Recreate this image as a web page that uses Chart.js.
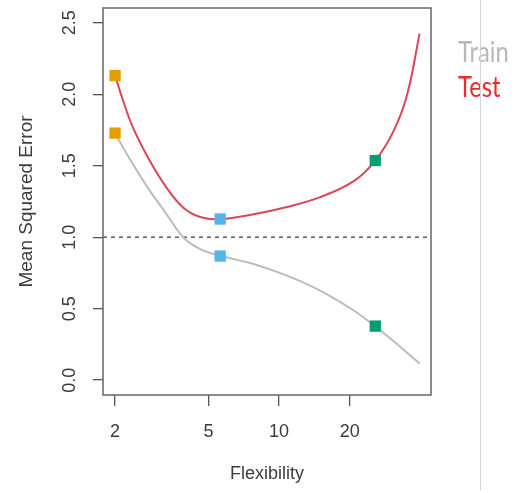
<!DOCTYPE html>
<html>
<head>
<meta charset="utf-8">
<script src="https://cdn.jsdelivr.net/npm/chart.js@4.4.1/dist/chart.umd.min.js"></script>
<style>
  html, body { margin: 0; padding: 0; background: #fff; }
  #wrap { position: relative; width: 526px; height: 493px; }
  #divider { position: absolute; left: 480px; top: 0; width: 1px; height: 490px; background: #d4d4d4; }
</style>
</head>
<body>
<div id="wrap">
  <canvas id="mseChart" width="526" height="493"></canvas>
  <div id="divider"></div>
</div>
<script>
// curves (x on a log scale)
const flexibility = [2, 2.17, 2.39, 2.82, 3.32, 3.91, 4.61, 5.61, 7.78, 10.8, 14.97, 20.8, 25.7, 30.7, 35.1, 39.7];
const trainMSE = [1.724, 1.624, 1.508, 1.322, 1.160, 0.998, 0.917, 0.870, 0.812, 0.731, 0.626, 0.487, 0.376, 0.273, 0.192, 0.116];
const testMSE = [2.13, 1.949, 1.763, 1.531, 1.345, 1.206, 1.141, 1.125, 1.160, 1.211, 1.280, 1.392, 1.536, 1.740, 1.995, 2.424];

// the three highlighted fits
const markerFlex = [2, 5.61, 25.7];
const markerTrain = [1.728, 0.868, 0.378];
const markerTest = [2.13, 1.127, 1.536];

const xTicks = [2, 5, 10, 20];
const yTicks = [0, 0.5, 1, 1.5, 2, 2.5];
const refLevel = 1.0;
const seriesNames = ['Train', 'Test'];

const markerColors = ['#E69F00', '#56B4E9', '#009E73'];
const textColor = '#3c3c3c';
const axisColor = '#555';

const toXY = (xs, ys) => xs.map((x, i) => ({ x: x, y: ys[i] }));

const framePlugin = {
  id: 'frame',
  beforeDatasetsDraw(chart) {
    const { ctx, chartArea: a, scales: { y } } = chart;
    const yy = y.getPixelForValue(refLevel);
    ctx.save();
    ctx.strokeStyle = '#444';
    ctx.lineWidth = 1.3;
    ctx.setLineDash([4, 4]);
    ctx.beginPath();
    ctx.moveTo(a.left, yy);
    ctx.lineTo(a.right, yy);
    ctx.stroke();
    ctx.restore();
  },
  afterDraw(chart) {
    const { ctx, chartArea: a } = chart;
    ctx.save();
    ctx.strokeStyle = '#666';
    ctx.lineWidth = 1.5;
    ctx.strokeRect(a.left, a.top, a.right - a.left, a.bottom - a.top);

    // legend as coloured words
    ctx.font = '29px Lato';
    ctx.textBaseline = 'alphabetic';
    ctx.textAlign = 'left';
    const legendColors = ['#b8b8b8', '#ee2b2b'];
    const baselines = [61.5, 96.5];
    seriesNames.forEach((name, i) => {
      ctx.save();
      ctx.translate(458, baselines[i]);
      ctx.scale(0.82, 1);
      ctx.fillStyle = legendColors[i];
      ctx.fillText(name, 0, 0);
      ctx.restore();
    });
    ctx.restore();
  }
};

const ctx = document.getElementById('mseChart').getContext('2d');

new Chart(ctx, {
  type: 'line',
  data: {
    datasets: [
      {
        label: 'Test fits',
        data: toXY(markerFlex, markerTest),
        showLine: false,
        pointStyle: 'rect',
        pointRadius: 8,
        pointBorderWidth: 0,
        pointBackgroundColor: markerColors,
        pointBorderColor: markerColors
      },
      {
        label: 'Train fits',
        data: toXY(markerFlex, markerTrain),
        showLine: false,
        pointStyle: 'rect',
        pointRadius: 8,
        pointBorderWidth: 0,
        pointBackgroundColor: markerColors,
        pointBorderColor: markerColors
      },
      {
        label: seriesNames[1],
        data: toXY(flexibility, testMSE),
        borderColor: '#dc4656',
        borderWidth: 2,
        pointRadius: 0,
        tension: 0.4,
        fill: false
      },
      {
        label: seriesNames[0],
        data: toXY(flexibility, trainMSE),
        borderColor: '#bcbcbc',
        borderWidth: 2,
        pointRadius: 0,
        tension: 0.4,
        fill: false
      }
    ]
  },
  options: {
    responsive: false,
    animation: false,
    events: [],
    layout: { padding: { left: 0, top: 6, right: 95, bottom: 0 } },
    plugins: {
      legend: { display: false },
      tooltip: { enabled: false }
    },
    scales: {
      x: {
        type: 'logarithmic',
        min: 1.777,
        max: 44.4,
        bounds: 'data',
        afterBuildTicks: (s) => { s.ticks = xTicks.map(v => ({ value: v })); },
        afterFit: (s) => { s.height = 98; s.paddingLeft = 0; s.paddingRight = 0; },
        border: { display: false },
        grid: { drawOnChartArea: false, drawTicks: true, tickLength: 11, tickColor: axisColor, lineWidth: 1.3 },
        ticks: {
          padding: 15,
          color: textColor,
          font: { family: 'Liberation Sans, Arial, sans-serif', size: 18 },
          callback: (v) => String(v)
        },
        title: {
          display: true,
          text: 'Flexibility',
          color: textColor,
          font: { family: 'Liberation Sans, Arial, sans-serif', size: 18 },
          padding: { top: 0, bottom: 8 }
        }
      },
      y: {
        type: 'linear',
        min: -0.104,
        max: 2.603,
        bounds: 'data',
        afterBuildTicks: (s) => { s.ticks = yTicks.map(v => ({ value: v })); },
        afterFit: (s) => { s.width = 103; s.paddingTop = 0; s.paddingBottom = 0; },
        border: { display: false },
        grid: { drawOnChartArea: false, drawTicks: true, tickLength: 10, tickColor: axisColor, lineWidth: 1.3 },
        ticks: {
          minRotation: 90,
          maxRotation: 90,
          crossAlign: 'center',
          padding: 10,
          color: textColor,
          font: { family: 'Liberation Sans, Arial, sans-serif', size: 18 },
          callback: (v) => v.toFixed(1)
        },
        title: {
          display: true,
          text: 'Mean Squared Error',
          color: textColor,
          font: { family: 'Liberation Sans, Arial, sans-serif', size: 19 },
          padding: { top: 15, bottom: 0 }
        }
      }
    }
  },
  plugins: [framePlugin]
});
</script>
</body>
</html>
